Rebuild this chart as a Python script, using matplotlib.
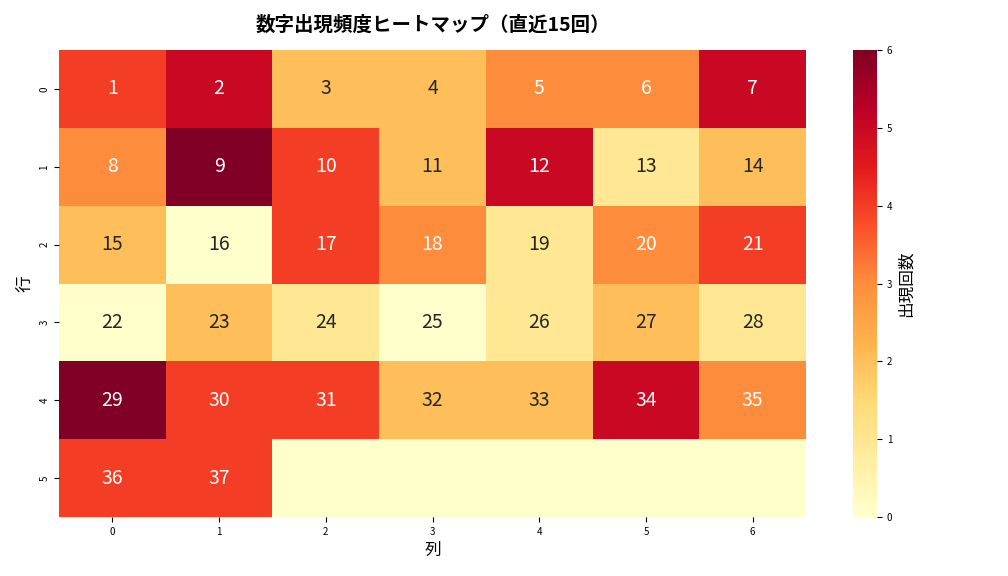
import numpy as np
import matplotlib
matplotlib.use("Agg")
import matplotlib.pyplot as plt

plt.rcParams["font.family"] = ["Noto Sans CJK JP", "DejaVu Sans"]

numbers = list(range(1, 38))
counts = [4, 5, 2, 2, 3, 3, 5,
          3, 6, 4, 2, 5, 1, 2,
          2, 0, 4, 3, 1, 3, 4,
          0, 2, 1, 0, 1, 2, 1,
          6, 4, 4, 2, 2, 5, 3,
          4, 4]
ncols = 7
nrows = 6

grid = np.zeros((nrows, ncols))
for i, c in enumerate(counts):
    grid[i // ncols, i % ncols] = c

fig = plt.figure(figsize=(10.08, 5.76), dpi=100)
ax = fig.add_axes([59/1008, 1-517/576, (806-59)/1008, (517-50)/576])
cax = fig.add_axes([853/1008, 1-517/576, 24/1008, (517-50)/576])
cmap = plt.get_cmap("YlOrRd")
m = ax.pcolormesh(np.arange(ncols+1), np.arange(nrows+1), grid, cmap=cmap, vmin=0, vmax=6)
ax.set_ylim(nrows, 0)
ax.set_xlim(0, ncols)
for i, n in enumerate(numbers):
    r, c = divmod(i, ncols)
    v = counts[i]
    ax.text(c+0.5, r+0.5, str(n), ha="center", va="center", fontsize=14,
            color="white" if v >= 3 else "#262626")
ax.set_xticks(np.arange(ncols)+0.5, [str(i) for i in range(ncols)], fontsize=7)
ax.set_yticks(np.arange(nrows)+0.5, [str(i) for i in range(nrows)], fontsize=7, rotation=90, va="center")
for s in ax.spines.values():
    s.set_visible(False)
ax.set_xlabel("列", fontsize=12)
ax.set_ylabel("行", fontsize=12)
ax.set_title("数字出現頻度ヒートマップ（直近15回）", fontsize=14, fontweight="bold", pad=14)
cb = fig.colorbar(m, cax=cax)
cb.outline.set_visible(False)
cb.ax.tick_params(labelsize=7)
cb.set_label("出現回数", fontsize=12)
fig.savefig("out.png", dpi=100)
